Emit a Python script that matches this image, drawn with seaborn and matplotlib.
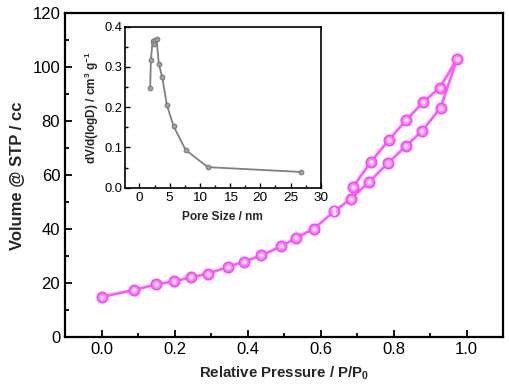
#!/usr/bin/env python3
"""
N2 sorption isotherm with a BJH pore size distribution inset.
"""
import matplotlib
matplotlib.use("Agg")
import matplotlib.pyplot as plt
import matplotlib.ticker as mticker
import pandas as pd
import seaborn as sns

# adsorption branch (lower) and desorption branch (upper)
ads_p = [0.0, 0.09, 0.149, 0.199, 0.246, 0.291, 0.346, 0.389, 0.438, 0.492,
         0.534, 0.582, 0.638, 0.683, 0.733, 0.785, 0.835, 0.879, 0.929, 0.974]
ads_v = [15.0, 17.6, 19.6, 20.8, 22.3, 23.6, 26.1, 28.0, 30.4, 33.7,
         36.9, 40.3, 46.0, 51.3, 57.6, 64.6, 71.0, 76.6, 85.1, 103.1]
des_p = [0.974, 0.926, 0.881, 0.834, 0.787, 0.737, 0.689, 0.638]
des_v = [103.1, 92.4, 87.1, 80.4, 73.1, 64.8, 55.8, 47.5]

# pore size distribution
pore_d = [1.77, 1.89, 2.16, 2.44, 2.62, 2.83, 3.21, 3.76, 4.54, 5.64,
          7.63, 11.3, 26.8]
pore_dv = [0.247, 0.316, 0.364, 0.356, 0.366, 0.369, 0.307, 0.275, 0.205,
           0.153, 0.094, 0.051, 0.039]

sns.set_style("ticks")
plt.rcParams['font.family'] = ['Liberation Sans', 'DejaVu Sans']
plt.rcParams['mathtext.fontset'] = 'custom'
plt.rcParams['mathtext.bf'] = 'Liberation Sans:bold'
plt.rcParams['mathtext.rm'] = 'Liberation Sans'

iso = pd.DataFrame({'p': ads_p + des_p, 'v': ads_v + des_v})
psd = pd.DataFrame({'d': pore_d, 'dv': pore_dv})

fig = plt.figure(figsize=(5.1, 3.91), dpi=100)
ax = fig.add_axes([0.1275, 0.137, 0.859, 0.829])

sns.lineplot(data=iso, x='p', y='v', sort=False, ax=ax, color='#ff5cff',
             linewidth=2, marker='o', markersize=7.5,
             markerfacecolor='#ff80ff', markeredgecolor='#f050f0',
             markeredgewidth=1.2)
# small highlight on each sphere
ax.plot(iso['p'], iso['v'], linestyle='none', marker='o', markersize=2.2,
        color='#ffe8ff')

ax.set_xlim(-0.1, 1.1)
ax.set_ylim(0, 120)
ax.xaxis.set_major_locator(mticker.MultipleLocator(0.2))
ax.xaxis.set_minor_locator(mticker.MultipleLocator(0.1))
ax.yaxis.set_major_locator(mticker.MultipleLocator(20))
ax.yaxis.set_minor_locator(mticker.MultipleLocator(10))
ax.xaxis.set_major_formatter(mticker.FormatStrFormatter('%.1f'))
ax.tick_params(which='both', direction='in', top=False, right=False,
               labelsize=12, width=1.3, colors='black')
ax.tick_params(which='major', length=5)
ax.tick_params(which='minor', length=3)
for s in ax.spines.values():
    s.set_linewidth(1.6)
    s.set_color('black')
ax.set_xlabel(r'Relative Pressure / P/P$_\mathbf{0}$', fontsize=10.8,
              fontweight='bold', labelpad=5)
ax.set_ylabel('Volume @ STP / cc', fontsize=12, fontweight='bold',
              labelpad=5)

# inset
ins = fig.add_axes([0.245, 0.52, 0.384, 0.412])
sns.lineplot(data=psd, x='d', y='dv', sort=False, ax=ins, color='#808080',
             linewidth=1.3, marker='o', markersize=3.5,
             markerfacecolor='#a0a0a0', markeredgecolor='#707070',
             markeredgewidth=0.6)
ins.set_xlim(-2.4, 30)
ins.set_ylim(0, 0.4)
ins.xaxis.set_major_locator(mticker.MultipleLocator(5))
ins.xaxis.set_minor_locator(mticker.MultipleLocator(2.5))
ins.yaxis.set_major_locator(mticker.MultipleLocator(0.1))
ins.yaxis.set_minor_locator(mticker.MultipleLocator(0.05))
ins.yaxis.set_major_formatter(mticker.FormatStrFormatter('%.1f'))
ins.tick_params(which='both', direction='in', top=False, right=False,
                width=1, colors='black')
ins.tick_params(which='major', length=3.5)
ins.tick_params(which='minor', length=2)
ins.tick_params(axis='x', labelsize=9.7, pad=3)
ins.tick_params(axis='y', labelsize=9.3, pad=2)
for s in ins.spines.values():
    s.set_linewidth(1.2)
    s.set_color('black')
ins.set_xlabel('Pore Size / nm', fontsize=8.6, fontweight='bold', labelpad=5)
ins.set_ylabel(r'dV/d(logD) / cm$^\mathbf{3}$ g$^\mathbf{-1}$', fontsize=8.5,
               fontweight='bold', labelpad=2)

fig.savefig('out.png', dpi=100)
